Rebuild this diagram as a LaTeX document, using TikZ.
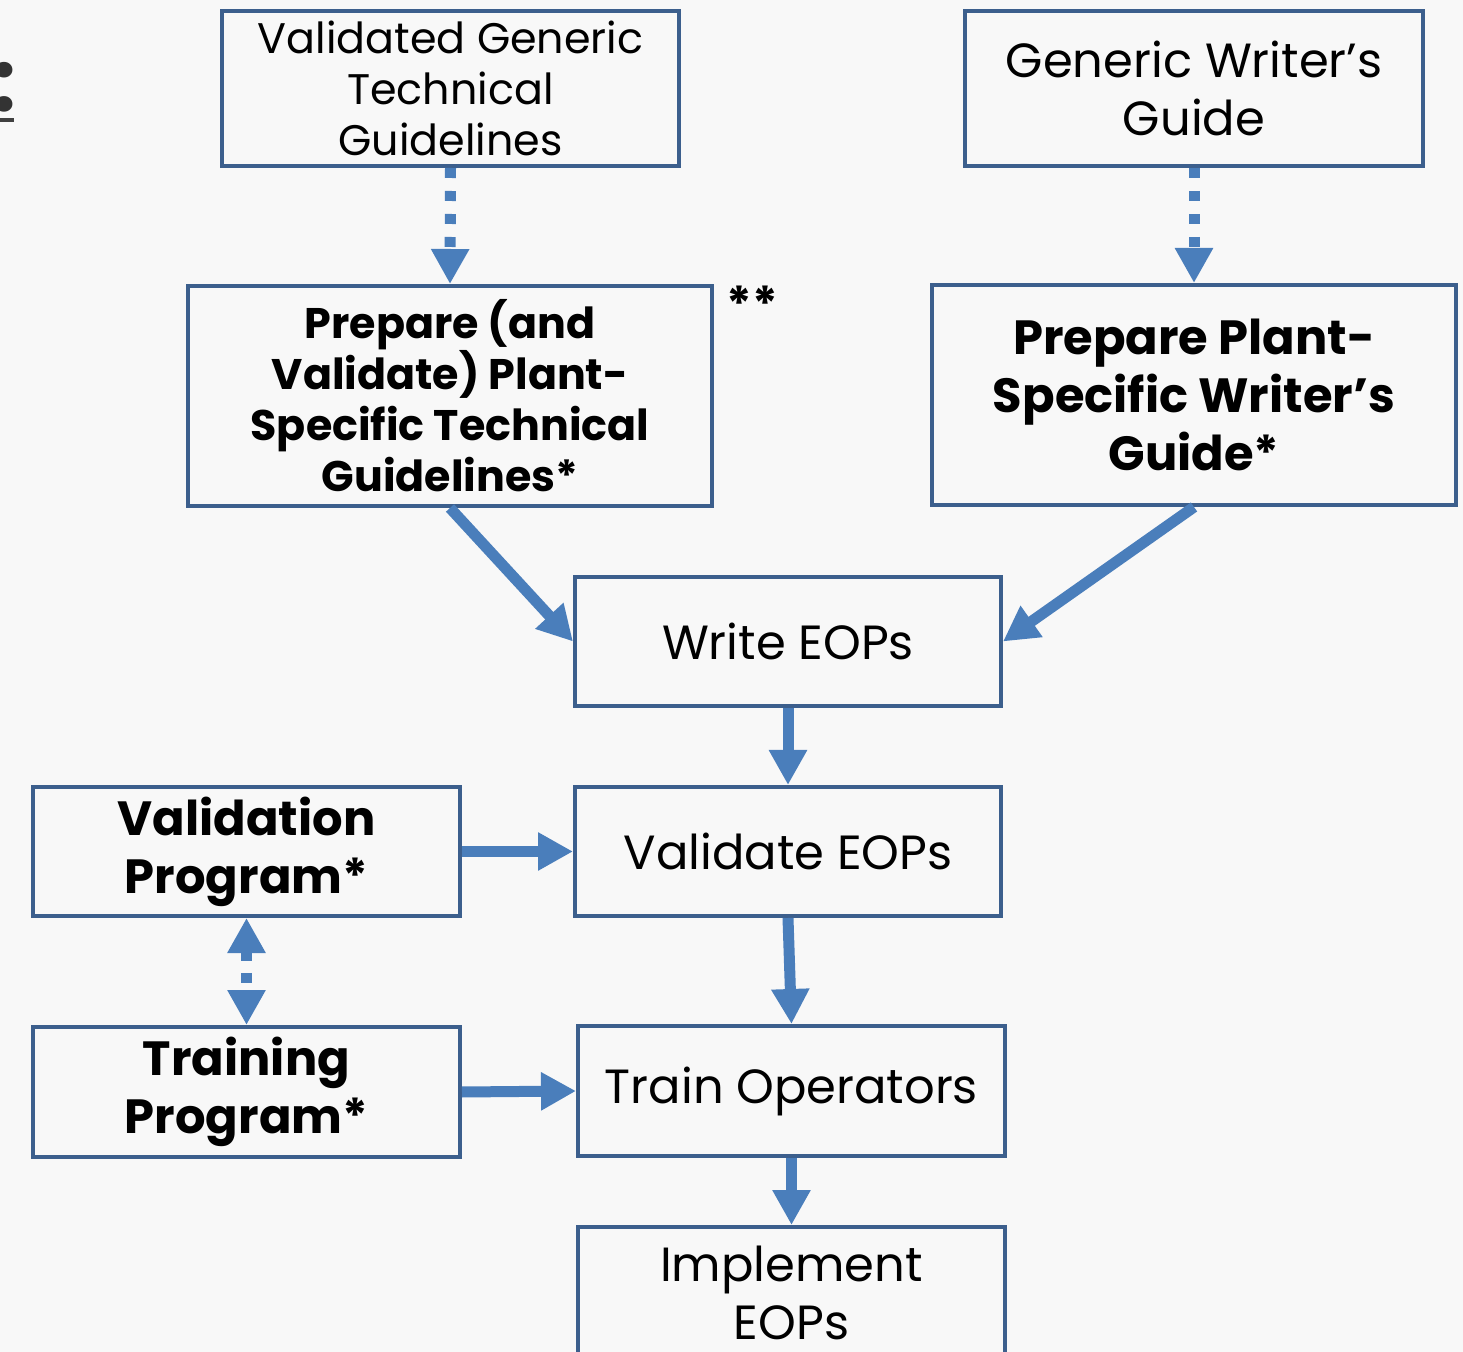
\documentclass[tikz,border=0pt]{standalone}
\usepackage{fontspec}
\setmainfont{Poppins}
\usetikzlibrary{arrows.meta}
\definecolor{bg}{HTML}{F8F8F8}
\definecolor{boxline}{HTML}{3C5F8D}
\definecolor{arrowc}{HTML}{4A7EBB}
\begin{document}
\begin{tikzpicture}[x=0.5pt,y=-0.5pt,
  box/.style={draw=boxline, line width=2pt, fill=bg, align=center, inner sep=0pt, text=black},
  smalltxt/.style={font=\fontsize{21.4}{25.5}\selectfont},
  bigtxt/.style={font=\fontsize{24}{29}\selectfont},
  smallbold/.style={font=\fontsize{21.4}{25.5}\selectfont\bfseries},
  bigbold/.style={font=\fontsize{24}{29}\selectfont\bfseries},
  flow/.style={draw=arrowc, line width=5.5pt, -{Triangle[length=17.5pt,width=18pt]}, arrowc},
  dotflow/.style={flow, dash pattern=on 5pt off 6.5pt},
]
\fill[bg] (0,0) rectangle (1463,1352);
\useasboundingbox (0,0) rectangle (1463,1352);

% partial text at the left edge
\node[anchor=base, inner sep=0pt, font=\fontsize{42}{48}\selectfont\bfseries, text={black!80}] (colon) at (4,112) {:};
\draw[line width=2pt, black!75] (-10,120) -- (14,120);

\node[box, smalltxt, minimum width=228.5pt, minimum height=77.5pt] (vg) at (450.5,88.5) {Validated Generic\\Technical\\Guidelines};
\node[box, bigtxt, minimum width=229pt, minimum height=77.5pt] (gw) at (1194,88.5) {Generic Writer’s\\Guide};
\node[box, smallbold, minimum width=262pt, minimum height=110pt] (ps) at (450,396) {Prepare (and\\Validate) Plant-\\Specific Technical\\Guidelines*};
\node[anchor=center, inner sep=0pt, font=\fontsize{24}{28}\selectfont\bfseries] (stars) at (752,304) {**};
\node[box, bigbold, minimum width=262pt, minimum height=110pt] (pw) at (1194,395) {Prepare Plant-\\Specific Writer’s\\Guide*};
\node[box, bigtxt, minimum width=213pt, minimum height=64.5pt] (we) at (788,641.5) {Write EOPs};
\node[box, bigtxt, minimum width=213pt, minimum height=64.5pt] (ve) at (788,851.5) {Validate EOPs};
\node[box, bigbold, minimum width=213.5pt, minimum height=64.5pt] (vp) at (246.5,851.5) {Validation\\Program*};
\node[box, bigbold, minimum width=213.5pt, minimum height=65pt] (tp) at (246.5,1092) {Training\\Program*};
\node[box, bigtxt, minimum width=213.5pt, minimum height=65pt] (to) at (791.5,1091) {Train Operators};
\node[box, bigtxt, minimum width=213.5pt, minimum height=66pt] (ie) at (791.5,1293) {Implement\\EOPs};

\draw[dotflow] (vg.south) -- (ps.north);
\draw[dotflow] (gw.south) -- (pw.north);
\draw[flow] (ps.south) -- (we.west);
\draw[flow] (pw.south) -- (we.east);
\draw[flow] (we.south) -- (ve.north);
\draw[flow] (vp.east) -- (ve.west);
\draw[flow] (ve.south) -- (to.north);
\draw[flow] (tp.east) -- (to.west);
\draw[flow] (to.south) -- (ie.north);
\draw[dotflow, {Triangle[length=17.5pt,width=18pt]}-{Triangle[length=17.5pt,width=18pt]}, dash pattern=on 5pt off 6pt] (vp.south) -- (tp.north);
\end{tikzpicture}
\end{document}
